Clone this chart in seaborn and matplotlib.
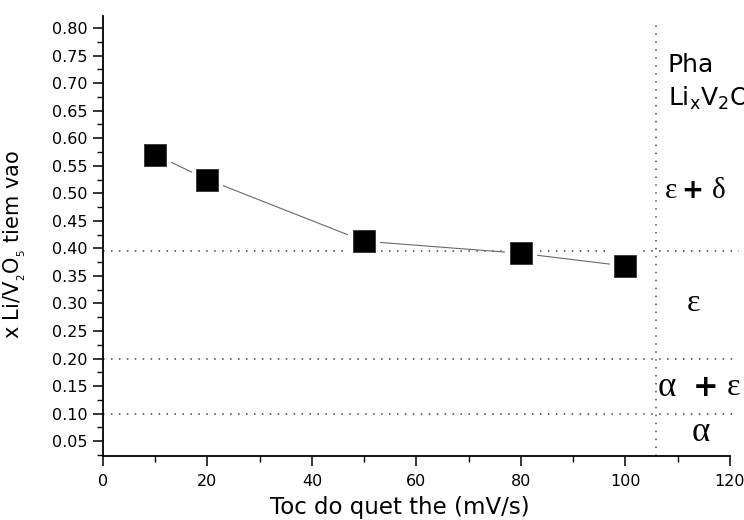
import matplotlib
matplotlib.use("Agg")
import matplotlib.pyplot as plt
from matplotlib.ticker import MultipleLocator
import seaborn as sns
import pandas as pd

# Scan rate (mV/s) and amount of inserted Li per V2O5
scan_rate = [10, 20, 50, 80, 100]
x_li = [0.570, 0.525, 0.413, 0.391, 0.368]

# Phase boundaries in x and the boundary on the scan-rate axis
phase_bounds = [0.395, 0.20, 0.10]
phase_bound_ends = [121.8, 120.5, 120.4]
rate_bound = 105.9

y_ticks = [0.05, 0.10, 0.15, 0.20, 0.25, 0.30, 0.35, 0.40, 0.45,
           0.50, 0.55, 0.60, 0.65, 0.70, 0.75, 0.80]
x_ticks = [0, 20, 40, 60, 80, 100, 120]

df = pd.DataFrame({"rate": scan_rate, "x": x_li})

sns.set_style("ticks")
plt.rcParams["font.family"] = ["DejaVu Sans"]
plt.rcParams["mathtext.fontset"] = "dejavusans"
plt.rcParams["mathtext.default"] = "regular"
plt.rcParams["text.color"] = "black"
plt.rcParams["axes.labelcolor"] = "black"

fig = plt.figure(figsize=(7.44, 5.2), dpi=100)
ax = fig.add_axes([0.1384, 0.1231, 0.8427, 0.8462])

# connecting line, then markers with a white halo so the line stops short
sns.lineplot(data=df, x="rate", y="x", ax=ax, color="#6a6a6a", lw=0.8,
             zorder=2, sort=False)
sns.scatterplot(data=df, x="rate", y="x", ax=ax, marker="s", s=520,
                color="white", edgecolor="none", zorder=3, linewidth=0)
sns.scatterplot(data=df, x="rate", y="x", ax=ax, marker="s", s=230,
                color="black", edgecolor="#333333", linewidth=0.6, zorder=4)

dot = dict(color="#444444", lw=1.1, linestyle=(0, (1, 4.2)))
for yb, xe in zip(phase_bounds, phase_bound_ends):
    ax.hlines(yb, 0, xe, clip_on=False, zorder=1, **dot)
ax.axvline(rate_bound, ymin=0, ymax=0.99, clip_on=False, zorder=1, **dot)

ax.set_xlim(0, 120)
ax.set_ylim(0.023, 0.822)
ax.set_xticks(x_ticks)
ax.set_yticks(y_ticks)
ax.set_yticklabels([f"{v:.2f}" for v in y_ticks])
ax.xaxis.set_minor_locator(MultipleLocator(10))
ax.yaxis.set_minor_locator(MultipleLocator(0.025))
ax.tick_params(axis="both", which="major", length=7, width=1.1,
               labelsize=11.5, color="black", labelcolor="black")
ax.tick_params(axis="both", which="minor", length=4, width=1.0,
               color="black")
ax.tick_params(axis="x", pad=6)
ax.tick_params(axis="y", pad=4)
for s in ("left", "bottom"):
    ax.spines[s].set_linewidth(1.3)
    ax.spines[s].set_color("black")
sns.despine(ax=ax)

ax.set_xlabel("Toc do quet the (mV/s)", fontsize=16.5)
ax.xaxis.set_label_coords(0.474, -0.118)
ax.xaxis.label.set_va("center")
ax.set_ylabel(r"x Li/V$_{_2}$O$_{_5}$ tiem vao", fontsize=15)
ax.yaxis.set_label_coords(-0.140, 0.48)
ax.yaxis.label.set_va("center")

serif = ["Liberation Serif", "DejaVu Serif"]
bold_plus = dict(fontsize=19, fontweight="bold", family="DejaVu Sans",
                 va="center", ha="center", clip_on=False)

ax.text(108.1, 0.721, "Pha", fontsize=18, va="baseline", ha="left",
        clip_on=False)
ax.text(108.1, 0.658, r"Li$_x$V$_2$O", fontsize=18, va="baseline",
        ha="left", clip_on=False)

# ε + δ
ax.text(107.6, 0.504, "ε", fontsize=21, family=serif, va="center",
        ha="left", clip_on=False)
ax.text(112.7, 0.504, "+", **bold_plus)
ax.text(117.9, 0.504, "δ", fontsize=21, family=serif, va="center",
        ha="center", clip_on=False)

# ε
ax.text(113.1, 0.299, "ε", fontsize=23, family=serif, va="center",
        ha="center", clip_on=False)

# α + ε
ax.text(106.1, 0.147, "α", fontsize=25, family=serif, va="center",
        ha="left", clip_on=False)
ax.text(115.4, 0.147, "+", fontsize=22, fontweight="bold",
        family="DejaVu Sans", va="center", ha="center", clip_on=False)
ax.text(120.6, 0.147, "ε", fontsize=23, family=serif, va="center",
        ha="center", clip_on=False)

# α
ax.text(114.5, 0.066, "α", fontsize=25, family=serif, va="center",
        ha="center", clip_on=False)

ax.set_facecolor("white")
fig.patch.set_facecolor("white")
fig.savefig("out.png", dpi=100, facecolor="white")
